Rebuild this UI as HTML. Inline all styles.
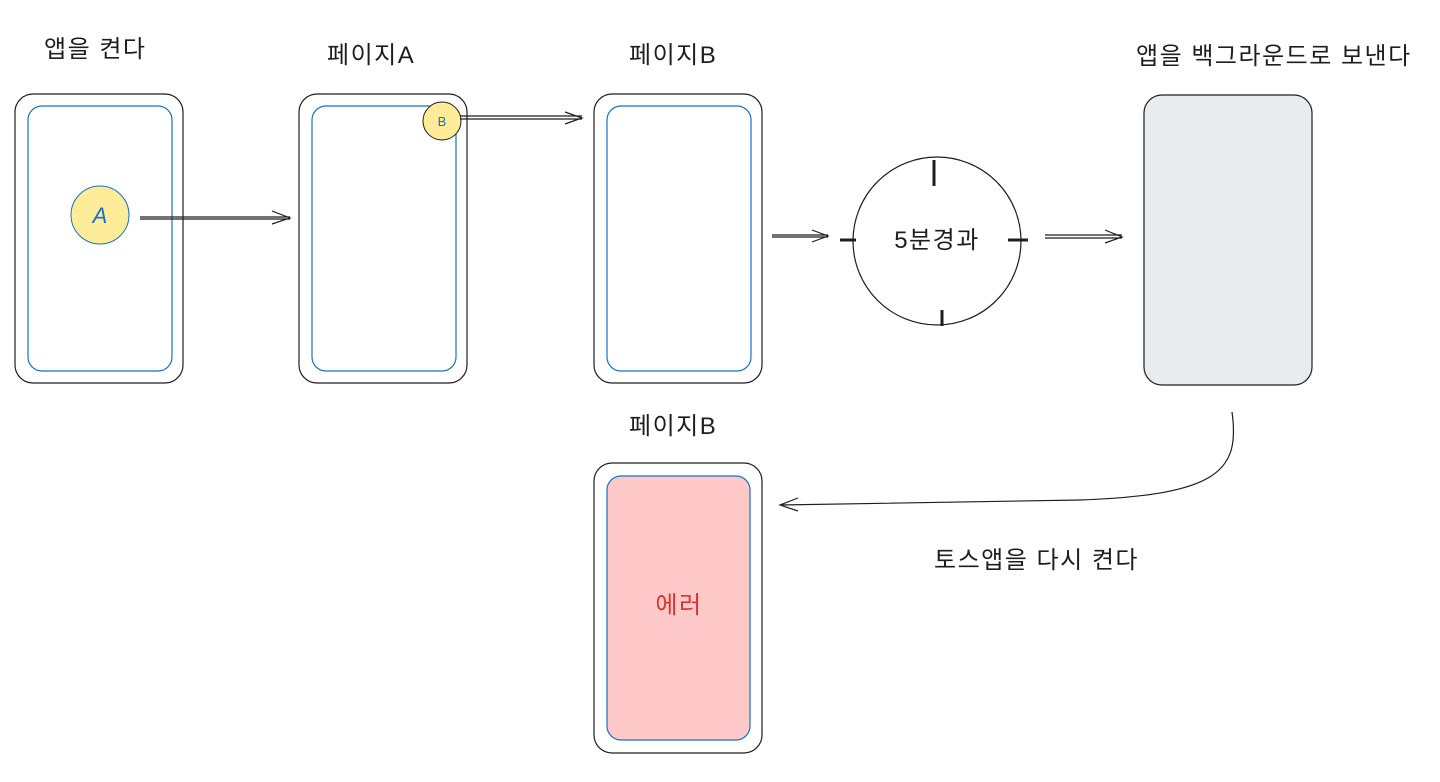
<!DOCTYPE html>
<html><head><meta charset="utf-8"><style>
body{margin:0;width:1440px;height:777px;background:#fff;overflow:hidden}
svg text{font-family:"Liberation Sans","Noto Sans CJK KR",sans-serif}
</style></head><body>
<svg width="1440" height="777" viewBox="0 0 1440 777">
<g fill="none" stroke="#1e1e1e" stroke-width="1.2">
<rect x="15" y="94" width="168" height="289" rx="18"/>
<rect x="299" y="94" width="168" height="289" rx="18"/>
<rect x="594" y="94" width="168" height="289" rx="18"/>
<rect x="594" y="463" width="168" height="290" rx="18"/>
<rect x="1144" y="95" width="168" height="290" rx="18" fill="#e9ecef"/>
</g>
<g fill="none" stroke="#1971c2" stroke-width="1.2">
<rect x="28" y="106" width="144" height="265" rx="14"/>
<rect x="312" y="106" width="144" height="265" rx="14"/>
<rect x="607" y="106" width="144" height="265" rx="14"/>
<rect x="607" y="476" width="143" height="264" rx="14" fill="#ffc9c9"/>
</g>
<circle cx="100" cy="215" r="29" fill="#ffec99" stroke="#1971c2" stroke-width="1"/>
<text x="100" y="223" font-size="22" font-style="italic" fill="#1971c2" text-anchor="middle">A</text>
<circle cx="442" cy="121" r="19" fill="#ffec99" stroke="#1e1e1e" stroke-width="1"/>
<text x="442" y="126" font-size="13" fill="#1971c2" text-anchor="middle" font-family="Liberation Mono">B</text>
<g fill="none" stroke="#1e1e1e" stroke-width="1.2">
<path d="M140 217H290M140 219H290M272 211L290 218L272 224"/>
<path d="M460 116H582M460 119H582M565 112L582 118L565 124"/>
<path d="M772 235H828M772 237H828M812 230L828 236L812 242"/>
<path d="M1045 235H1122M1045 238H1122M1105 230L1122 237L1105 243"/>
<path d="M1232 412C1240 470 1220 495 1080 500L780 505M798 498L780 505L798 511"/>
<circle cx="937" cy="241" r="84"/>
<path d="M934 160V186M942 310V326M840 240H856M1008 240H1028" stroke-width="3"/>
</g>
<g font-size="24" fill="#1e1e1e" letter-spacing="1.5">
<text x="44" y="57">앱을 켠다</text>
<text x="327" y="63">페이지A</text>
<text x="629" y="63">페이지B</text>
<text x="1136" y="64">앱을 백그라운드로 보낸다</text>
<text x="629" y="434">페이지B</text>
<text x="934" y="568">토스앱을 다시 켠다</text>
<text x="937" y="248" text-anchor="middle">5분경과</text>
<text x="679" y="613" text-anchor="middle" fill="#e03131">에러</text>
</g>
</svg>
</body></html>
